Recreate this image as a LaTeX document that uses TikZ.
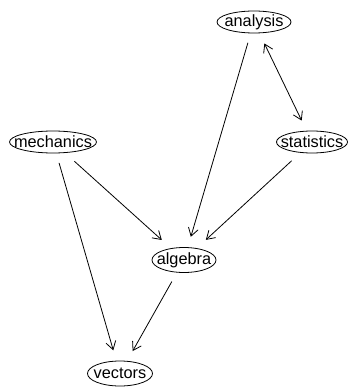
\documentclass[tikz,border=0pt]{standalone}
\usepackage{fontspec}
\setmainfont{Liberation Sans}
\usetikzlibrary{shapes.geometric,arrows.meta}
\begin{document}
\begin{tikzpicture}[x=1pt,y=-1pt,
  vnode/.style={ellipse,draw,line width=0.8pt,inner sep=0pt,outer sep=10pt,
    minimum height=22pt},
  vlab/.style={font=\fontsize{16.3}{19}\selectfont},
  edge/.style={line width=0.8pt,-{Straight Barb[length=8pt,width=10pt]},shorten >=1pt},
  dedge/.style={line width=0.8pt,{Straight Barb[length=8pt,width=10pt]}-{Straight Barb[length=8pt,width=10pt]},shorten >=1pt,shorten <=1pt}]
\useasboundingbox (0,0) rectangle (349,387);
\node[vnode,minimum width=74pt,label={[vlab]center:analysis}] (analysis) at (254,22) {};
\node[vnode,minimum width=87pt,label={[vlab]center:mechanics}] (mechanics) at (53,142) {};
\node[vnode,minimum width=71pt,label={[vlab]center:statistics}] (statistics) at (312,142) {};
\node[vnode,minimum width=64pt,minimum height=25pt,label={[vlab]center:algebra}] (algebra) at (184,260) {};
\node[vnode,minimum width=65pt,minimum height=25pt,label={[vlab]center:vectors}] (vectors) at (120,373.5) {};
\draw[edge] (analysis) -- (algebra);
\draw[dedge] (analysis) -- (statistics);
\draw[edge] (mechanics) -- (algebra);
\draw[edge] (statistics) -- (algebra);
\draw[edge] (mechanics) -- (vectors);
\draw[edge] (algebra) -- (vectors);
\end{tikzpicture}
\end{document}
